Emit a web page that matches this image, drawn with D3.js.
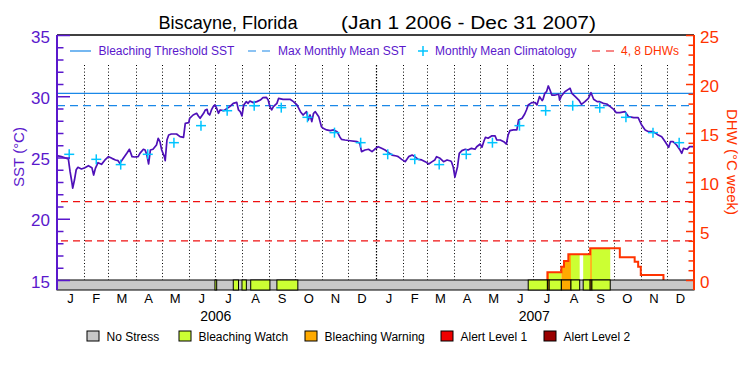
<!DOCTYPE html>
<html><head><meta charset="utf-8">
<script src="https://cdn.jsdelivr.net/npm/d3@7/dist/d3.min.js"></script>
<style>
body{margin:0;background:#fff}
text{font-family:"Liberation Sans",Arial,sans-serif}
</style>
</head><body>
<svg id="chart" width="750" height="375"></svg>
<script>
// ---------------- DATA ----------------
const titleSite = "Biscayne, Florida";
const titleRange = "(Jan 1 2006 - Dec 31 2007)";
const periodStart = Date.UTC(2006, 0, 1);
const periodEnd = Date.UTC(2008, 0, 1);

// SST (days since Jan 1 2006, deg C)
const sstDays = [0,5,13,15,17,18,20,22,24,28,32,36,40,42,44,47,51,55,59,63,67,70,72,76,80,83,86,89,93,95,99,101,103,105,107,110,114,116,118,120,123,124,126,128,131,137,141,145,147,151,152,156,160,162,164,168,170,172,173,175,177,179,181,183,185,187,191,195,198,202,206,208,210,212,214,217,219,221,225,229,233,236,240,242,244,246,248,252,254,259,267,271,275,279,282,286,288,290,292,294,296,300,303,305,309,313,317,321,324,326,330,336,344,347,349,353,357,361,364,368,372,376,380,384,389,391,395,399,403,407,410,414,418,422,426,430,433,435,439,443,447,451,452,454,456,459,461,464,468,471,475,479,481,485,487,489,491,494,498,502,504,508,512,515,517,519,523,527,529,533,536,538,540,544,548,550,553,556,557,559,561,563,565,567,571,575,576,578,582,586,588,590,594,598,601,605,609,612,615,619,622,626,630,634,638,641,645,651,655,661,666,670,674,678,682,685,689,693,697,701,703,706,710,714,716,718,722,725,729];
const sstValues = [25.15,25.07,24.88,23.84,23.0,22.5,23.16,24.0,24.2,24.06,24.17,24.33,24.17,23.57,24.11,24.58,24.44,24.8,25.07,24.93,24.8,24.74,24.52,24.93,25.34,25.67,25.07,25.04,25.07,25.34,25.67,25.61,25.2,24.47,25.61,25.67,26.02,26.57,26.29,25.61,25.07,24.74,26.43,26.84,26.92,26.92,26.7,26.65,27.79,27.84,28.2,28.47,28.61,28.39,28.2,28.61,28.88,28.93,28.61,28.47,28.88,29.15,29.29,29.01,28.61,28.88,28.82,29.01,29.15,29.42,29.5,28.88,28.74,28.39,29.29,29.56,29.42,29.61,29.48,29.56,29.69,29.88,29.91,29.69,29.15,28.88,29.15,29.42,29.83,29.75,29.75,29.56,29.29,28.74,28.47,28.74,28.06,28.47,27.93,28.61,28.74,28.33,27.52,27.38,27.25,27.19,27.25,27.11,26.7,26.48,26.43,26.37,26.29,26.16,25.48,25.61,25.67,25.48,25.67,25.88,25.75,25.61,25.4,25.2,25.12,25.07,24.85,24.66,25.07,25.2,25.07,24.85,24.8,24.66,24.47,24.66,24.8,25.07,24.93,24.66,24.8,24.71,24.66,24.25,23.4,24.25,25.34,25.56,25.67,25.61,25.75,25.67,25.88,26.1,25.83,26.29,26.65,26.57,26.76,26.76,26.43,26.43,26.29,26.1,26.84,27.19,27.25,27.25,28.06,28.2,28.55,28.88,29.29,29.48,29.48,29.29,29.97,29.64,29.75,30.24,30.37,30.84,30.51,30.1,30.1,30.16,29.69,30.02,30.37,30.56,30.65,30.24,29.97,29.69,29.34,29.56,29.83,30.29,29.75,29.56,29.56,29.42,29.37,29.15,28.93,28.66,28.66,28.74,28.33,28.25,28.25,27.65,27.25,27.11,27.11,27.03,26.84,26.7,26.29,25.83,26.29,26.29,26.02,25.61,25.34,25.75,25.67,25.88,25.88];

// Monthly mean climatology (Jan..Dec), plotted mid-month in each year
const climValues = [25.26,24.85,24.42,25.26,26.21,27.6,28.82,29.23,29.07,28.28,27.03,26.21];
const maxMonthlyMean = 29.23;
const bleachingThreshold = 30.23;
const dhwRefLevels = [4, 8];

// Degree heating weeks (step function, days since Jan 1 2006)
const dhwDays = [562,562,578,581,586,611,645,662,666,669,695];
const dhwValues = [0,0.78,1.36,1.94,2.62,3.23,2.31,1.87,1.36,0.51,0];

// Stress level periods (days since Jan 1 2006)
const stressStart = [181,202,212,222,252,540,562,564,578,589,603,611,613];
const stressEnd   = [183,208,217,244,276,562,564,578,589,599,611,613,634];
const stressLevel = [1,1,1,1,1,1,2,1,2,1,1,2,1];
const stressNames = ["No Stress","Bleaching Watch","Bleaching Warning","Alert Level 1","Alert Level 2"];
const stressColors = ["#c8c8c8","#ccff33","#ffaa00","#ee0000","#990000"];

const monthLetters = ["J","F","M","A","M","J","J","A","S","O","N","D"];
const yearLabels = ["2006","2007"];
const sstTicks = [15,20,25,30,35];
const dhwTicks = [0,5,10,15,20,25];

// ---------------- STYLE ----------------
const purple = "#5a18cc", lineColor = "#4e10b8", blue = "#1a88e8", cyan = "#00c4ff",
      red = "#ff3300", redDash = "#f01010";
const L = 57, R = 694, T = 35, B = 280, barB = 290;

const svg = d3.select("#chart");
const dayToDate = d => new Date(periodStart + d * 864e5);
const x = d3.scaleUtc().domain([new Date(periodStart), new Date(periodEnd)]).range([L, R]);
const ySST = d3.scaleLinear().domain([15, 35]).range([B, T]);
const yDHW = d3.scaleLinear().domain([0, 25]).range([B, T]);

// Title
svg.append("text").attr("x", 158.5).attr("y", 29).attr("font-size", 18)
  .attr("textLength", 139).attr("lengthAdjust", "spacingAndGlyphs").text(titleSite);
svg.append("text").attr("x", 341).attr("y", 29).attr("font-size", 18)
  .attr("textLength", 255).attr("lengthAdjust", "spacingAndGlyphs").text(titleRange);

// Month dotted gridlines
const months = d3.utcMonth.range(new Date(periodStart), new Date(periodEnd));
svg.append("g").selectAll("line").data(months.slice(1)).join("line")
  .attr("x1", d => Math.round(x(d)) + 0.5).attr("x2", d => Math.round(x(d)) + 0.5)
  .attr("y1", 65).attr("y2", B)
  .attr("stroke", "#000")
  .attr("stroke-width", d => d.getUTCMonth() === 0 ? 1.2 : 1)
  .attr("stroke-dasharray", d => d.getUTCMonth() === 0 ? "1.5,1.5" : "1,2.3");

// Threshold and MMM lines
svg.append("line").attr("x1", L).attr("x2", R).attr("y1", ySST(bleachingThreshold)).attr("y2", ySST(bleachingThreshold))
  .attr("stroke", blue).attr("stroke-width", 1.2);
svg.append("line").attr("x1", L).attr("x2", R).attr("y1", ySST(maxMonthlyMean)).attr("y2", ySST(maxMonthlyMean))
  .attr("stroke", blue).attr("stroke-width", 1.2).attr("stroke-dasharray", "8,5");

// DHW reference lines
svg.append("g").selectAll("line").data(dhwRefLevels).join("line")
  .attr("x1", L + 4).attr("x2", R).attr("y1", d => yDHW(d)).attr("y2", d => yDHW(d))
  .attr("stroke", redDash).attr("stroke-width", 1.3).attr("stroke-dasharray", "7,5");

// DHW fills by stress level
const dhwPts = dhwDays.map((d, i) => [dayToDate(d), dhwValues[i]]);
const dhwArea = d3.area().x(d => x(d[0])).y0(yDHW(0)).y1(d => yDHW(d[1])).curve(d3.curveStepAfter);
const dhwLine = d3.line().x(d => x(d[0])).y(d => yDHW(d[1])).curve(d3.curveStepAfter);
const defs = svg.append("defs");
stressStart.forEach((s, i) => {
  const id = "clip" + i;
  defs.append("clipPath").attr("id", id).append("rect")
    .attr("x", x(dayToDate(s))).attr("width", x(dayToDate(stressEnd[i])) - x(dayToDate(s)))
    .attr("y", T).attr("height", B - T);
  svg.append("path").attr("d", dhwArea(dhwPts)).attr("fill", stressColors[stressLevel[i]])
    .attr("clip-path", `url(#${id})`);
});
svg.append("path").attr("d", dhwLine(dhwPts)).attr("fill", "none").attr("stroke", red).attr("stroke-width", 2);

// SST line
const sstPts = sstDays.map((d, i) => [dayToDate(d), sstValues[i]]);
svg.append("path").attr("d", d3.line().x(d => x(d[0])).y(d => ySST(d[1]))(sstPts))
  .attr("fill", "none").attr("stroke", lineColor).attr("stroke-width", 1.7).attr("stroke-linejoin", "round");

// Climatology pluses
const climPts = [];
[2006, 2007].forEach(yr => climValues.forEach((v, m) => climPts.push([new Date(Date.UTC(yr, m, 15)), v])));
const plus = svg.append("g").attr("stroke", cyan).attr("stroke-width", 1.5);
plus.selectAll("line.h").data(climPts).join("line").attr("class", "h")
  .attr("x1", d => x(d[0]) - 5).attr("x2", d => x(d[0]) + 5).attr("y1", d => ySST(d[1])).attr("y2", d => ySST(d[1]));
plus.selectAll("line.v").data(climPts).join("line").attr("class", "v")
  .attr("x1", d => x(d[0])).attr("x2", d => x(d[0])).attr("y1", d => ySST(d[1]) - 5).attr("y2", d => ySST(d[1]) + 5);

// Stress bar
svg.append("rect").attr("x", L).attr("y", B).attr("width", R - L).attr("height", barB - B)
  .attr("fill", stressColors[0]).attr("stroke", "#000").attr("stroke-width", 1);
svg.append("g").selectAll("rect").data(stressStart.map((s, i) => i)).join("rect")
  .attr("x", i => x(dayToDate(stressStart[i]))).attr("width", i => x(dayToDate(stressEnd[i])) - x(dayToDate(stressStart[i])))
  .attr("y", B).attr("height", barB - B)
  .attr("fill", i => stressColors[stressLevel[i]]).attr("stroke", "#000").attr("stroke-width", 1);

// Top frame
svg.append("line").attr("x1", L).attr("x2", R).attr("y1", T).attr("y2", T).attr("stroke", "#000").attr("stroke-width", 1.5);

// Left SST axis
const gl = svg.append("g").attr("transform", `translate(${L},0)`);
gl.call(d3.axisLeft(ySST).tickValues(d3.range(15, 36, 1).filter(v => v % 5)).tickSize(-6.5).tickFormat(""));
gl.call(g => g.append("g").call(d3.axisLeft(ySST).tickValues(sstTicks).tickSize(-13).tickPadding(7)));
gl.selectAll(".domain").remove();
gl.selectAll("line").attr("stroke", purple).attr("stroke-width", 1.5);
gl.selectAll("text").attr("fill", purple).attr("font-size", 17).attr("dy", "0.42em")
  .attr("font-family", "Liberation Sans, Arial, sans-serif");
gl.append("line").attr("x1", 0).attr("x2", 0).attr("y1", T).attr("y2", barB).attr("stroke", purple).attr("stroke-width", 2);

// Right DHW axis
const gr = svg.append("g").attr("transform", `translate(${R},0)`);
gr.call(d3.axisRight(yDHW).tickValues(d3.range(0, 26, 1).filter(v => v % 5)).tickSize(-5.5).tickFormat(""));
gr.call(g => g.append("g").call(d3.axisRight(yDHW).tickValues(dhwTicks).tickSize(-8).tickPadding(6)));
gr.selectAll(".domain").remove();
gr.selectAll("line").attr("stroke", red).attr("stroke-width", 1.5);
gr.selectAll("text").attr("fill", red).attr("font-size", 17).attr("dy", "0.42em")
  .attr("font-family", "Liberation Sans, Arial, sans-serif");
gr.append("line").attr("x1", 0).attr("x2", 0).attr("y1", T).attr("y2", barB).attr("stroke", red).attr("stroke-width", 2);

// Axis titles
svg.append("text").attr("transform", "translate(24,157) rotate(-90)").attr("text-anchor", "middle")
  .attr("font-size", 15).attr("fill", purple).text("SST (°C)");
svg.append("text").attr("transform", "translate(727,162) rotate(90)").attr("text-anchor", "middle")
  .attr("font-size", 15).attr("fill", red).text("DHW (°C week)");

// Month labels
svg.append("g").selectAll("text").data(months).join("text")
  .attr("x", d => x(new Date((+d + +d3.utcMonth.offset(d, 1)) / 2)))
  .attr("y", 303).attr("text-anchor", "middle").attr("font-size", 13)
  .text(d => monthLetters[d.getUTCMonth()]);
svg.append("g").selectAll("text").data(yearLabels).join("text")
  .attr("x", d => x(new Date(Date.UTC(+d, 6, 2)))).attr("y", 321).attr("text-anchor", "middle").attr("font-size", 14)
  .text(d => d);

// Top legend
const lg = svg.append("g").attr("font-size", 12);
lg.append("line").attr("x1", 70).attr("x2", 91).attr("y1", 51).attr("y2", 51).attr("stroke", blue).attr("stroke-width", 1.2);
lg.append("text").attr("x", 98.5).attr("y", 55).attr("fill", purple).text("Bleaching Threshold SST");
lg.append("line").attr("x1", 248).attr("x2", 272).attr("y1", 51).attr("y2", 51).attr("stroke", blue).attr("stroke-width", 1.2).attr("stroke-dasharray", "8,6");
lg.append("text").attr("x", 278).attr("y", 55).attr("fill", purple).text("Max Monthly Mean SST");
lg.append("line").attr("x1", 418).attr("x2", 428).attr("y1", 51).attr("y2", 51).attr("stroke", cyan).attr("stroke-width", 1.5);
lg.append("line").attr("x1", 423).attr("x2", 423).attr("y1", 46).attr("y2", 56).attr("stroke", cyan).attr("stroke-width", 1.5);
lg.append("text").attr("x", 435).attr("y", 55).attr("fill", purple).text("Monthly Mean Climatology");
lg.append("line").attr("x1", 592).attr("x2", 616).attr("y1", 51).attr("y2", 51).attr("stroke", redDash).attr("stroke-width", 1.2).attr("stroke-dasharray", "8,6");
lg.append("text").attr("x", 621).attr("y", 55).attr("fill", red).text("4, 8 DHWs");

// Bottom legend
const legX = [87, 179, 305, 441, 544];
const bl = svg.append("g").selectAll("g").data(stressNames).join("g")
  .attr("transform", (d, i) => `translate(${legX[i]},331)`);
bl.append("rect").attr("width", 12).attr("height", 10).attr("fill", (d, i) => stressColors[i]).attr("stroke", "#000");
bl.append("text").attr("x", 19.5).attr("y", 10).attr("font-size", 12).text(d => d);
</script>
</body></html>
